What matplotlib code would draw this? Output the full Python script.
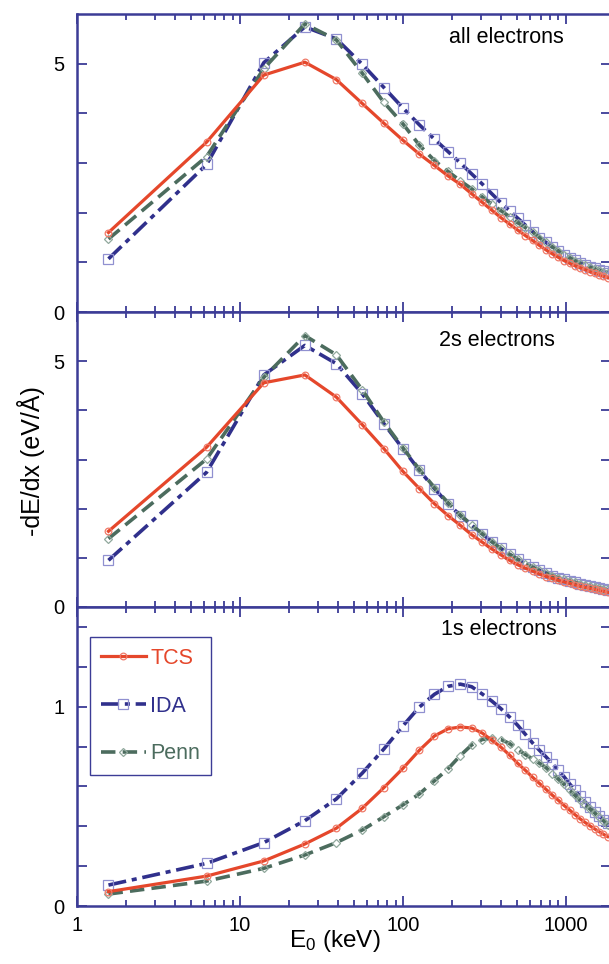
import matplotlib
matplotlib.use('Agg')
import matplotlib.pyplot as plt
from matplotlib.ticker import FixedLocator, FixedFormatter, NullFormatter, LogLocator

plt.rcParams['font.family'] = ['Liberation Sans', 'DejaVu Sans']
plt.rcParams['mathtext.fontset'] = 'custom'
plt.rcParams['mathtext.rm'] = 'Liberation Sans'
plt.rcParams['mathtext.it'] = 'Liberation Sans'

# electron energies (keV), same for every curve
energy = [1.56, 6.24, 14.0, 25.0, 39.0, 56.2, 76.4, 99.8, 126, 156, 189, 225, 264, 306,
          351, 399, 451, 505, 563, 624, 688, 755, 825, 899, 975, 1055, 1137, 1223, 1312,
          1404, 1499, 1597, 1699, 1803]

# all electrons
all_tcs = [1.60, 3.42, 4.77, 5.03, 4.68, 4.20, 3.80, 3.46, 3.18, 2.95, 2.74, 2.57, 2.38, 2.21,
           2.05, 1.90, 1.77, 1.65, 1.54, 1.44, 1.34, 1.25, 1.17, 1.10, 1.035, 0.98, 0.93, 0.89,
           0.85, 0.81, 0.78, 0.75, 0.72, 0.69]
all_ida = [1.07, 2.97, 5.02, 5.74, 5.50, 4.99, 4.52, 4.11, 3.77, 3.48, 3.23, 3.00, 2.78, 2.58,
           2.38, 2.20, 2.04, 1.89, 1.75, 1.62, 1.50, 1.40, 1.31, 1.23, 1.15, 1.09, 1.04, 0.99,
           0.95, 0.91, 0.88, 0.85, 0.82, 0.79]
all_penn = [1.47, 3.13, 4.90, 5.80, 5.48, 4.81, 4.22, 3.79, 3.36, 3.05, 2.83, 2.64, 2.48, 2.32,
            2.17, 2.04, 1.92, 1.80, 1.70, 1.61, 1.50, 1.40, 1.31, 1.23, 1.15, 1.09, 1.03, 0.98,
            0.94, 0.90, 0.87, 0.84, 0.81, 0.78]

# 2s electrons
s2_tcs = [1.54, 3.25, 4.56, 4.72, 4.27, 3.71, 3.22, 2.76, 2.41, 2.10, 1.86, 1.66, 1.47, 1.32,
          1.18, 1.06, 0.95, 0.86, 0.79, 0.73, 0.67, 0.62, 0.58, 0.54, 0.51, 0.48, 0.45, 0.42,
          0.40, 0.38, 0.36, 0.34, 0.32, 0.30]
s2_ida = [0.95, 2.74, 4.72, 5.32, 4.95, 4.34, 3.73, 3.22, 2.78, 2.41, 2.10, 1.86, 1.66, 1.49,
          1.33, 1.19, 1.07, 0.97, 0.88, 0.81, 0.75, 0.69, 0.64, 0.60, 0.56, 0.53, 0.50, 0.47,
          0.44, 0.42, 0.40, 0.38, 0.37, 0.35]
s2_penn = [1.39, 3.01, 4.67, 5.52, 5.13, 4.42, 3.76, 3.24, 2.80, 2.43, 2.12, 1.87, 1.67, 1.49,
           1.33, 1.19, 1.07, 0.97, 0.88, 0.81, 0.75, 0.69, 0.64, 0.60, 0.56, 0.53, 0.50, 0.47,
           0.45, 0.42, 0.40, 0.39, 0.37, 0.36]

# 1s electrons
s1_tcs = [0.072, 0.150, 0.226, 0.311, 0.390, 0.490, 0.594, 0.690, 0.781, 0.853, 0.889, 0.898,
          0.893, 0.868, 0.832, 0.797, 0.757, 0.716, 0.681, 0.646, 0.615, 0.585, 0.556, 0.530,
          0.504, 0.481, 0.458, 0.437, 0.419, 0.402, 0.387, 0.373, 0.360, 0.348]
s1_ida = [0.105, 0.214, 0.318, 0.428, 0.537, 0.666, 0.788, 0.903, 0.998, 1.062, 1.102, 1.113,
          1.100, 1.064, 1.028, 0.990, 0.948, 0.907, 0.862, 0.818, 0.781, 0.748, 0.714, 0.680,
          0.648, 0.612, 0.580, 0.550, 0.522, 0.497, 0.473, 0.452, 0.432, 0.414]
s1_penn = [0.060, 0.125, 0.189, 0.256, 0.318, 0.381, 0.448, 0.507, 0.562, 0.628, 0.688, 0.755,
           0.808, 0.835, 0.842, 0.835, 0.815, 0.785, 0.760, 0.738, 0.716, 0.694, 0.664, 0.636,
           0.610, 0.580, 0.555, 0.530, 0.508, 0.487, 0.467, 0.448, 0.428, 0.408]

panel_labels = ['all electrons', '2s electrons', '1s electrons']
series_names = ['TCS', 'IDA', 'Penn']
x_ticks = [1, 10, 100, 1000]
x_ticklabels = ['1', '10', '100', '1000']

AXIS_COL = '#3c3c96'
TCS_COL = '#e5472b'
IDA_COL = '#30308c'
PENN_COL = '#4c6c5e'

W, H = 609, 964


def style_axis(ax, ymax, yticks, yminor):
    ax.set_xscale('log')
    ax.set_xlim(1, 1890)
    ax.set_ylim(0, ymax)
    for sp in ax.spines.values():
        sp.set_color(AXIS_COL)
        sp.set_linewidth(1.8)
    ax.xaxis.set_major_locator(FixedLocator(x_ticks))
    ax.xaxis.set_major_formatter(FixedFormatter(x_ticklabels))
    ax.xaxis.set_minor_locator(LogLocator(base=10, subs=range(2, 10), numticks=20))
    ax.xaxis.set_minor_formatter(NullFormatter())
    ax.yaxis.set_major_locator(FixedLocator(yticks))
    ax.yaxis.set_minor_locator(FixedLocator(yminor))
    ax.tick_params(which='both', direction='in', top=True, right=True, color=AXIS_COL,
                   labelsize=14.5, width=1.3)
    ax.tick_params(axis='x', which='major', length=7, pad=7)
    ax.tick_params(axis='x', which='minor', length=4)
    ax.tick_params(axis='y', which='both', length=7, pad=9)


def draw_curves(ax, tcs, ida, penn):
    ax.plot(energy, ida, color=IDA_COL, lw=2.6, dashes=(5, 1.6, 1.4, 1.6),
            marker='s', ms=6.5, mfc='none', mec='#9090d0', mew=0.9, label='IDA')
    ax.plot(energy, penn, color=PENN_COL, lw=2.6, dashes=(4, 2),
            marker='D', ms=4.5, mfc='none', mec='#90a89c', mew=0.9, label='Penn')
    ax.plot(energy, tcs, color=TCS_COL, lw=2.3, marker='o', ms=4.8, mfc='none',
            mec='#f07a68', mew=0.9, label='TCS')


fig = plt.figure(figsize=(W / 100, H / 100), dpi=100)

left = 77 / W
width = (611 - 77) / W
# pixel rows of the three panels (top, bottom)
rows = [(14, 312), (312, 607), (607, 906)]
axes = []
for top, bot in rows:
    ax = fig.add_axes([left, 1 - bot / H, width, (bot - top) / H])
    axes.append(ax)

ax1, ax2, ax3 = axes
draw_curves(ax1, all_tcs, all_ida, all_penn)
draw_curves(ax2, s2_tcs, s2_ida, s2_penn)
draw_curves(ax3, s1_tcs, s1_ida, s1_penn)

style_axis(ax1, 6, [0, 5], [1, 2, 3, 4])
style_axis(ax2, 6, [0, 5], [1, 2, 3, 4])
style_axis(ax3, 1.5, [0, 1], [0.2, 0.4, 0.6, 0.8, 1.2, 1.4])
ax1.tick_params(labelbottom=False)
ax2.tick_params(labelbottom=False)

ax1.text(0.912, 0.903, panel_labels[0], transform=ax1.transAxes, ha='right', va='baseline', fontsize=15.5)
ax2.text(0.895, 0.885, panel_labels[1], transform=ax2.transAxes, ha='right', va='baseline', fontsize=15.5)
ax3.text(0.898, 0.906, panel_labels[2], transform=ax3.transAxes, ha='right', va='baseline', fontsize=15.5)

# legend in the 1s panel, order TCS / IDA / Penn
h, l = ax3.get_legend_handles_labels()
order = [l.index(n) for n in series_names]
leg = ax3.legend([h[i] for i in order], [l[i] for i in order], loc='upper left',
                 bbox_to_anchor=(0.024, 0.90), borderaxespad=0, fontsize=15.5,
                 handlelength=2.1, handletextpad=0.2, labelspacing=1.25, borderpad=0.5,
                 fancybox=False, framealpha=1)
leg.get_frame().set_edgecolor(AXIS_COL)
leg.get_frame().set_linewidth(1.0)
for txt, col in zip(leg.get_texts(), [TCS_COL, IDA_COL, PENN_COL]):
    txt.set_color(col)

fig.text(31 / W, 1 - 461 / H, '-dE/dx (eV/Å)', rotation=90, ha='center', va='center', fontsize=18)
fig.text(335 / W, 1 - 947 / H, r'E$_0$ (keV)', ha='center', va='baseline', fontsize=17.5)

fig.savefig('out.png', dpi=100)
